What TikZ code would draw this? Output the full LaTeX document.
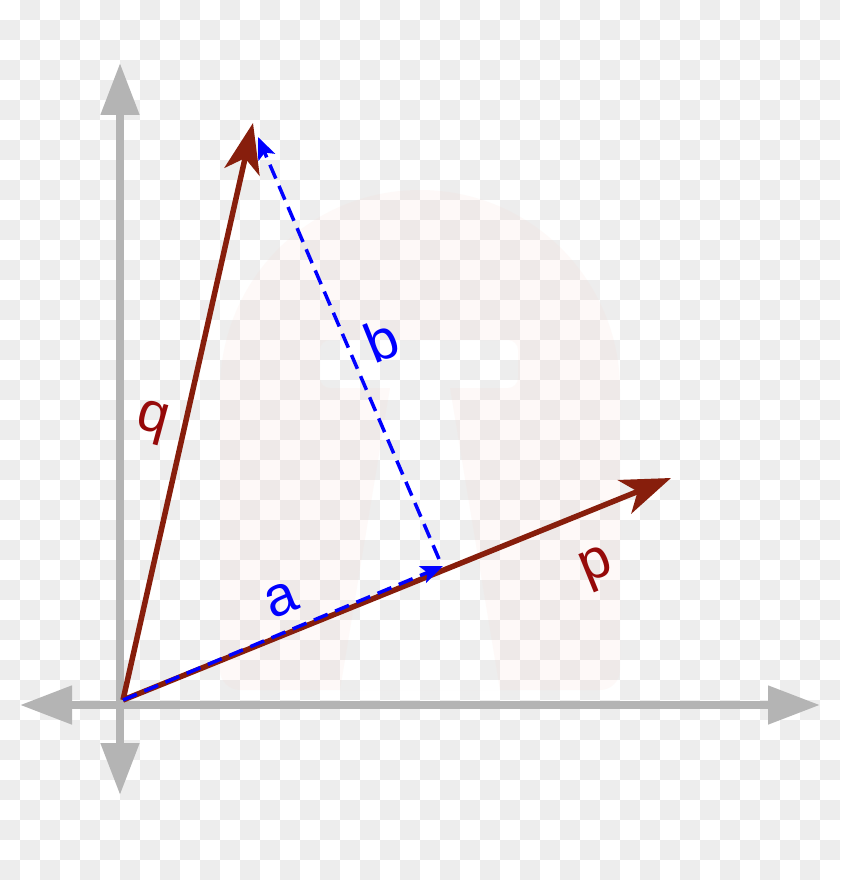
\documentclass[tikz,border=0pt]{standalone}
\usepackage{fontspec}
\setmainfont{Liberation Sans}
\usetikzlibrary{arrows.meta}
\definecolor{vecred}{RGB}{135,30,12}
\definecolor{labred}{RGB}{150,10,10}
\definecolor{axisgray}{RGB}{180,180,180}
\definecolor{checkgray}{RGB}{237,237,237}
\definecolor{wmpink}{RGB}{250,212,200}
\begin{document}
\begin{tikzpicture}[x=1pt,y=-1pt,
  axis/.style={draw=axisgray,line width=8pt,{Triangle[length=52pt,width=37pt]}-{Triangle[length=52pt,width=37pt]}},
  vec/.style={draw=vecred,line width=5.5pt,-{Stealth[length=50pt,width=36pt,inset=14pt]}},
  proj/.style={draw=blue,line width=3.5pt,dash pattern=on 15pt off 8pt,-{Stealth[length=22pt,width=18pt,inset=5pt]}},
  lab/.style={font=\fontsize{56}{60}\selectfont,inner sep=0pt}
]
\useasboundingbox (0,0) rectangle (840,880);
% checkerboard background
\fill[white] (0,0) rectangle (840,880);
\foreach \i in {0,...,41}{
  \foreach \j in {0,...,43}{
    \pgfmathtruncatemacro{\cellpar}{mod(\i+\j,2)}
    \ifnum\cellpar=1 \fill[checkgray] (\i*20,\j*20) rectangle ++(20,20);\fi
  }
}
% faint watermark
\fill[wmpink,opacity=0.12,even odd rule]
  (240,690) [rounded corners=20pt] -- (220,690) [sharp corners] -- (220,390) arc[start angle=180,end angle=360,x radius=200,y radius=200] [rounded corners=20pt] -- (620,690) [sharp corners] -- (240,690)
  [rounded corners=10pt] (320,340) -- (518,340) -- (518,388) [sharp corners] -- (450,388) -- (500,690) -- (340,690) -- (390,388) [rounded corners=10pt] -- (320,388) -- cycle;
% axes
\coordinate (xl) at (20,705);
\coordinate (xr) at (820,705);
\coordinate (yt) at (120,63);
\coordinate (yb) at (120,795);
\draw[axis] (xl) -- (xr);
\draw[axis] (yb) -- (yt);
% vectors
\coordinate (O) at (123,700);
\coordinate (Q) at (253,123);
\coordinate (P) at (671,478);
\coordinate (A) at (443,566);
\coordinate (A2) at (439,559);
\coordinate (B) at (258,137);
\draw[vec] (O) -- (Q);
\draw[vec] (O) -- (P);
\draw[proj] (O) -- (A);
\draw[proj] (A2) -- (B);
% labels
\node[lab,text=labred,rotate=-15] (ql) at (152,423) {q};
\node[lab,text=labred,rotate=22] (pl) at (597,569) {p};
\node[lab,text=blue,rotate=22] (al) at (281,600) {a};
\node[lab,text=blue,rotate=22] (bl) at (381,340) {b};
\end{tikzpicture}
\end{document}
